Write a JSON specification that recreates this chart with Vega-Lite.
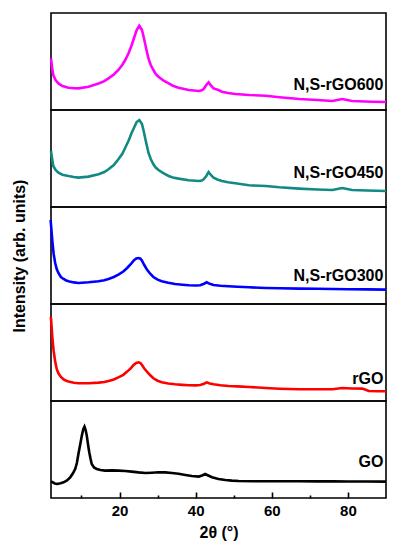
{
  "$schema": "https://vega.github.io/schema/vega-lite/v6.json",
  "padding": {"left": 10, "top": 12, "right": 8, "bottom": 3},
  "spacing": 0,
  "bounds": "flush",
  "config": {
    "view": {"stroke": "#000000", "strokeWidth": 1.6},
    "font": "Liberation Sans",
    "text": {"font": "Liberation Sans"}
  },
  "datasets": {
    "xrd": [
      {"s":"N,S-rGO600","x":2,"y":51.6},{"s":"N,S-rGO600","x":2.3,"y":42},{"s":"N,S-rGO600","x":2.6,"y":35},{"s":"N,S-rGO600","x":3.2,"y":30},{"s":"N,S-rGO600","x":3.95,"y":26.6},{"s":"N,S-rGO600","x":5,"y":24},{"s":"N,S-rGO600","x":6.6,"y":22.3},{"s":"N,S-rGO600","x":8,"y":21.8},{"s":"N,S-rGO600","x":9.2,"y":21.6},{"s":"N,S-rGO600","x":11.85,"y":23.3},{"s":"N,S-rGO600","x":14.5,"y":26.6},{"s":"N,S-rGO600","x":16,"y":28.8},{"s":"N,S-rGO600","x":17.1,"y":31.6},{"s":"N,S-rGO600","x":18.5,"y":35.5},{"s":"N,S-rGO600","x":19.7,"y":40},{"s":"N,S-rGO600","x":20.7,"y":45},{"s":"N,S-rGO600","x":21.5,"y":50},{"s":"N,S-rGO600","x":22.4,"y":57},{"s":"N,S-rGO600","x":23.2,"y":65},{"s":"N,S-rGO600","x":23.9,"y":73},{"s":"N,S-rGO600","x":24.5,"y":80},{"s":"N,S-rGO600","x":25.2,"y":84.3},{"s":"N,S-rGO600","x":25.9,"y":80},{"s":"N,S-rGO600","x":26.4,"y":72},{"s":"N,S-rGO600","x":26.8,"y":65},{"s":"N,S-rGO600","x":27.2,"y":58},{"s":"N,S-rGO600","x":27.6,"y":51.6},{"s":"N,S-rGO600","x":28.2,"y":45},{"s":"N,S-rGO600","x":28.9,"y":40},{"s":"N,S-rGO600","x":29.5,"y":36},{"s":"N,S-rGO600","x":30.25,"y":33.3},{"s":"N,S-rGO600","x":31.5,"y":29.5},{"s":"N,S-rGO600","x":32.9,"y":26.6},{"s":"N,S-rGO600","x":34,"y":24.3},{"s":"N,S-rGO600","x":35.5,"y":22.3},{"s":"N,S-rGO600","x":38.2,"y":20},{"s":"N,S-rGO600","x":40.8,"y":19},{"s":"N,S-rGO600","x":41.6,"y":19.6},{"s":"N,S-rGO600","x":42.1,"y":21},{"s":"N,S-rGO600","x":42.8,"y":25},{"s":"N,S-rGO600","x":43.4,"y":27.6},{"s":"N,S-rGO600","x":44,"y":24.5},{"s":"N,S-rGO600","x":44.7,"y":21.6},{"s":"N,S-rGO600","x":46,"y":20},{"s":"N,S-rGO600","x":46.9,"y":18.3},{"s":"N,S-rGO600","x":48.5,"y":17},{"s":"N,S-rGO600","x":50.4,"y":16},{"s":"N,S-rGO600","x":54,"y":15},{"s":"N,S-rGO600","x":58.4,"y":14.3},{"s":"N,S-rGO600","x":62,"y":12.8},{"s":"N,S-rGO600","x":67.2,"y":11},{"s":"N,S-rGO600","x":72,"y":10},{"s":"N,S-rGO600","x":75.9,"y":9},{"s":"N,S-rGO600","x":78.5,"y":11},{"s":"N,S-rGO600","x":81.1,"y":9},{"s":"N,S-rGO600","x":86.4,"y":8.3},{"s":"N,S-rGO600","x":90,"y":8},

      {"s":"N,S-rGO450","x":2,"y":56},{"s":"N,S-rGO450","x":2.3,"y":48},{"s":"N,S-rGO450","x":2.6,"y":41},{"s":"N,S-rGO450","x":3.2,"y":37},{"s":"N,S-rGO450","x":3.95,"y":34.3},{"s":"N,S-rGO450","x":5,"y":32.3},{"s":"N,S-rGO450","x":6.6,"y":31},{"s":"N,S-rGO450","x":8,"y":30},{"s":"N,S-rGO450","x":9.2,"y":29.4},{"s":"N,S-rGO450","x":11.85,"y":30.4},{"s":"N,S-rGO450","x":14.5,"y":32.7},{"s":"N,S-rGO450","x":16,"y":35},{"s":"N,S-rGO450","x":17.1,"y":37.7},{"s":"N,S-rGO450","x":18.5,"y":42},{"s":"N,S-rGO450","x":19.7,"y":47.7},{"s":"N,S-rGO450","x":20.7,"y":53},{"s":"N,S-rGO450","x":21.5,"y":59.3},{"s":"N,S-rGO450","x":22.4,"y":66.5},{"s":"N,S-rGO450","x":23.2,"y":74.3},{"s":"N,S-rGO450","x":23.9,"y":80},{"s":"N,S-rGO450","x":24.5,"y":85},{"s":"N,S-rGO450","x":25.2,"y":87},{"s":"N,S-rGO450","x":25.9,"y":83},{"s":"N,S-rGO450","x":26.4,"y":75},{"s":"N,S-rGO450","x":26.8,"y":67.7},{"s":"N,S-rGO450","x":27.2,"y":61},{"s":"N,S-rGO450","x":27.6,"y":54.3},{"s":"N,S-rGO450","x":28.2,"y":48},{"s":"N,S-rGO450","x":28.9,"y":42.7},{"s":"N,S-rGO450","x":29.5,"y":39.5},{"s":"N,S-rGO450","x":30.25,"y":37},{"s":"N,S-rGO450","x":31.5,"y":33.8},{"s":"N,S-rGO450","x":32.9,"y":31},{"s":"N,S-rGO450","x":34,"y":29.6},{"s":"N,S-rGO450","x":35.5,"y":28.4},{"s":"N,S-rGO450","x":38.2,"y":26.7},{"s":"N,S-rGO450","x":40.8,"y":26},{"s":"N,S-rGO450","x":41.6,"y":26.5},{"s":"N,S-rGO450","x":42.1,"y":27.7},{"s":"N,S-rGO450","x":42.8,"y":31},{"s":"N,S-rGO450","x":43.4,"y":35},{"s":"N,S-rGO450","x":44,"y":32},{"s":"N,S-rGO450","x":44.7,"y":29.4},{"s":"N,S-rGO450","x":45.7,"y":27.5},{"s":"N,S-rGO450","x":46.9,"y":26},{"s":"N,S-rGO450","x":48.5,"y":24.8},{"s":"N,S-rGO450","x":50.4,"y":23.7},{"s":"N,S-rGO450","x":54,"y":21.7},{"s":"N,S-rGO450","x":58.4,"y":21},{"s":"N,S-rGO450","x":62,"y":19.7},{"s":"N,S-rGO450","x":67.2,"y":18.4},{"s":"N,S-rGO450","x":72,"y":17.5},{"s":"N,S-rGO450","x":75.9,"y":17},{"s":"N,S-rGO450","x":78.5,"y":19},{"s":"N,S-rGO450","x":81.1,"y":17},{"s":"N,S-rGO450","x":85,"y":16.5},{"s":"N,S-rGO450","x":90,"y":16},

      {"s":"N,S-rGO300","x":1.9,"y":84},{"s":"N,S-rGO300","x":2,"y":79.4},{"s":"N,S-rGO300","x":2.2,"y":70},{"s":"N,S-rGO300","x":2.4,"y":61},{"s":"N,S-rGO300","x":2.7,"y":50},{"s":"N,S-rGO300","x":3.1,"y":41},{"s":"N,S-rGO300","x":3.5,"y":35},{"s":"N,S-rGO300","x":3.95,"y":31},{"s":"N,S-rGO300","x":4.6,"y":27},{"s":"N,S-rGO300","x":5.3,"y":25},{"s":"N,S-rGO300","x":6,"y":23.5},{"s":"N,S-rGO300","x":6.6,"y":22.7},{"s":"N,S-rGO300","x":8,"y":21.6},{"s":"N,S-rGO300","x":9.2,"y":21},{"s":"N,S-rGO300","x":11.85,"y":21.7},{"s":"N,S-rGO300","x":14.5,"y":22.7},{"s":"N,S-rGO300","x":16,"y":23.8},{"s":"N,S-rGO300","x":17.1,"y":25},{"s":"N,S-rGO300","x":18.5,"y":27},{"s":"N,S-rGO300","x":19.7,"y":29.4},{"s":"N,S-rGO300","x":21,"y":32.5},{"s":"N,S-rGO300","x":22,"y":36},{"s":"N,S-rGO300","x":23,"y":40},{"s":"N,S-rGO300","x":23.7,"y":43.4},{"s":"N,S-rGO300","x":24.4,"y":45.5},{"s":"N,S-rGO300","x":25,"y":46},{"s":"N,S-rGO300","x":25.5,"y":45.3},{"s":"N,S-rGO300","x":25.9,"y":43.4},{"s":"N,S-rGO300","x":26.5,"y":39},{"s":"N,S-rGO300","x":27.2,"y":34.4},{"s":"N,S-rGO300","x":28,"y":30.5},{"s":"N,S-rGO300","x":28.9,"y":27},{"s":"N,S-rGO300","x":30,"y":24.3},{"s":"N,S-rGO300","x":31.1,"y":22.7},{"s":"N,S-rGO300","x":32.8,"y":21.2},{"s":"N,S-rGO300","x":34.6,"y":20},{"s":"N,S-rGO300","x":36.5,"y":19.3},{"s":"N,S-rGO300","x":38.2,"y":18.7},{"s":"N,S-rGO300","x":40,"y":18.5},{"s":"N,S-rGO300","x":41.2,"y":18.7},{"s":"N,S-rGO300","x":42.2,"y":20.3},{"s":"N,S-rGO300","x":42.9,"y":21.7},{"s":"N,S-rGO300","x":43.7,"y":20.2},{"s":"N,S-rGO300","x":44.7,"y":19},{"s":"N,S-rGO300","x":46.5,"y":18.2},{"s":"N,S-rGO300","x":48.6,"y":17.7},{"s":"N,S-rGO300","x":51,"y":17.2},{"s":"N,S-rGO300","x":54,"y":16.7},{"s":"N,S-rGO300","x":58.4,"y":16},{"s":"N,S-rGO300","x":62,"y":15.7},{"s":"N,S-rGO300","x":67.2,"y":15.4},{"s":"N,S-rGO300","x":72,"y":15.2},{"s":"N,S-rGO300","x":75.9,"y":15},{"s":"N,S-rGO300","x":80,"y":14.8},{"s":"N,S-rGO300","x":85,"y":14.6},{"s":"N,S-rGO300","x":90,"y":14.4},

      {"s":"rGO","x":1.9,"y":84},{"s":"rGO","x":2,"y":82.7},{"s":"rGO","x":2.2,"y":72},{"s":"rGO","x":2.4,"y":61},{"s":"rGO","x":2.7,"y":50},{"s":"rGO","x":3.1,"y":39.4},{"s":"rGO","x":3.5,"y":32},{"s":"rGO","x":3.95,"y":27.7},{"s":"rGO","x":4.6,"y":24},{"s":"rGO","x":5.3,"y":21.7},{"s":"rGO","x":6,"y":20.3},{"s":"rGO","x":6.6,"y":19.4},{"s":"rGO","x":8,"y":18.3},{"s":"rGO","x":9.2,"y":17.7},{"s":"rGO","x":11.85,"y":17.7},{"s":"rGO","x":14.5,"y":18.4},{"s":"rGO","x":16,"y":19},{"s":"rGO","x":17.1,"y":20},{"s":"rGO","x":18.5,"y":21.5},{"s":"rGO","x":19.7,"y":23.7},{"s":"rGO","x":21,"y":26.2},{"s":"rGO","x":22,"y":29.4},{"s":"rGO","x":23,"y":32.8},{"s":"rGO","x":23.7,"y":36},{"s":"rGO","x":24.4,"y":38},{"s":"rGO","x":25,"y":38.7},{"s":"rGO","x":25.5,"y":38},{"s":"rGO","x":25.9,"y":36},{"s":"rGO","x":26.5,"y":32.5},{"s":"rGO","x":27.2,"y":29.4},{"s":"rGO","x":28,"y":26},{"s":"rGO","x":28.9,"y":22.7},{"s":"rGO","x":30,"y":20.3},{"s":"rGO","x":31.1,"y":18.7},{"s":"rGO","x":32.8,"y":17.5},{"s":"rGO","x":34.6,"y":16.7},{"s":"rGO","x":36.5,"y":16.1},{"s":"rGO","x":38.2,"y":15.7},{"s":"rGO","x":40,"y":15.6},{"s":"rGO","x":41.2,"y":16},{"s":"rGO","x":42.2,"y":17.3},{"s":"rGO","x":42.9,"y":18.7},{"s":"rGO","x":43.7,"y":17.6},{"s":"rGO","x":44.7,"y":16.7},{"s":"rGO","x":46.5,"y":15.7},{"s":"rGO","x":48.6,"y":15},{"s":"rGO","x":51,"y":14.6},{"s":"rGO","x":54,"y":14},{"s":"rGO","x":58.4,"y":13},{"s":"rGO","x":62,"y":12.3},{"s":"rGO","x":67.2,"y":11.7},{"s":"rGO","x":72,"y":11.7},{"s":"rGO","x":75.9,"y":11.7},{"s":"rGO","x":78.5,"y":13},{"s":"rGO","x":81,"y":12.5},{"s":"rGO","x":83.8,"y":12.4},{"s":"rGO","x":84.8,"y":11},{"s":"rGO","x":85.5,"y":10},{"s":"rGO","x":88,"y":9.8},{"s":"rGO","x":90,"y":9.7},

      {"s":"GO","x":2,"y":16.7},{"s":"GO","x":3,"y":14.5},{"s":"GO","x":3.6,"y":14},{"s":"GO","x":4.5,"y":14.8},{"s":"GO","x":5.3,"y":15.7},{"s":"GO","x":6.2,"y":17.5},{"s":"GO","x":7.05,"y":20.7},{"s":"GO","x":7.8,"y":25},{"s":"GO","x":8.35,"y":29},{"s":"GO","x":8.8,"y":35},{"s":"GO","x":9.2,"y":44},{"s":"GO","x":9.7,"y":54},{"s":"GO","x":10.1,"y":62.4},{"s":"GO","x":10.5,"y":69},{"s":"GO","x":10.8,"y":71.4},{"s":"GO","x":11.1,"y":68},{"s":"GO","x":11.4,"y":62.4},{"s":"GO","x":11.75,"y":53},{"s":"GO","x":12.05,"y":45.7},{"s":"GO","x":12.4,"y":39},{"s":"GO","x":12.7,"y":34},{"s":"GO","x":13.3,"y":30.5},{"s":"GO","x":14,"y":29},{"s":"GO","x":15,"y":28},{"s":"GO","x":16.2,"y":27.4},{"s":"GO","x":18,"y":27.6},{"s":"GO","x":19.7,"y":27.4},{"s":"GO","x":21.5,"y":27},{"s":"GO","x":23.2,"y":26.4},{"s":"GO","x":25,"y":25.6},{"s":"GO","x":26.8,"y":25},{"s":"GO","x":28.5,"y":25.3},{"s":"GO","x":30.25,"y":25.7},{"s":"GO","x":32,"y":25.6},{"s":"GO","x":33.75,"y":25},{"s":"GO","x":35.5,"y":24.2},{"s":"GO","x":37.3,"y":23},{"s":"GO","x":39,"y":22},{"s":"GO","x":40.8,"y":21.4},{"s":"GO","x":41.7,"y":22.5},{"s":"GO","x":42.5,"y":24},{"s":"GO","x":43.3,"y":22.5},{"s":"GO","x":44.3,"y":20.7},{"s":"GO","x":46,"y":19},{"s":"GO","x":47.8,"y":18},{"s":"GO","x":49.5,"y":17.4},{"s":"GO","x":51.3,"y":17},{"s":"GO","x":55,"y":16.8},{"s":"GO","x":58.3,"y":16.8},{"s":"GO","x":62,"y":16.7},{"s":"GO","x":67.1,"y":16.7},{"s":"GO","x":72,"y":16.6},{"s":"GO","x":75.9,"y":16.6},{"s":"GO","x":80,"y":16.5},{"s":"GO","x":85,"y":16.5},{"s":"GO","x":90,"y":16.4}
    ]
  },
  "vconcat": [
    {
      "width": 335, "height": 97,
      "layer": [
        {
          "data": {"name": "xrd"},
          "transform": [{"filter": "datum.s == 'N,S-rGO600'"}],
          "mark": {"type": "line", "color": "#FF00FF", "strokeWidth": 2.6},
          "encoding": {
            "x": {"field": "x", "type": "quantitative", "scale": {"domain": [2, 90], "nice": false, "zero": false}, "axis": null},
            "y": {"field": "y", "type": "quantitative", "scale": {"domain": [0, 97], "nice": false}, "axis": null}
          }
        },
        {
          "data": {"values": [{"label": "N,S-rGO600"}]},
          "mark": {"type": "text", "align": "right", "baseline": "middle", "fontSize": 16, "fontWeight": "bold", "color": "#000000"},
          "encoding": {"x": {"datum": 89.3, "type": "quantitative"}, "y": {"datum": 25, "type": "quantitative"}, "text": {"field": "label"}}
        }
      ]
    },
    {
      "width": 335, "height": 97,
      "layer": [
        {
          "data": {"name": "xrd"},
          "transform": [{"filter": "datum.s == 'N,S-rGO450'"}],
          "mark": {"type": "line", "color": "#128A84", "strokeWidth": 2.6},
          "encoding": {
            "x": {"field": "x", "type": "quantitative", "scale": {"domain": [2, 90], "nice": false, "zero": false}, "axis": null},
            "y": {"field": "y", "type": "quantitative", "scale": {"domain": [0, 97], "nice": false}, "axis": null}
          }
        },
        {
          "data": {"values": [{"label": "N,S-rGO450"}]},
          "mark": {"type": "text", "align": "right", "baseline": "middle", "fontSize": 16, "fontWeight": "bold", "color": "#000000"},
          "encoding": {"x": {"datum": 89.3, "type": "quantitative"}, "y": {"datum": 33.7, "type": "quantitative"}, "text": {"field": "label"}}
        }
      ]
    },
    {
      "width": 335, "height": 97,
      "layer": [
        {
          "data": {"name": "xrd"},
          "transform": [{"filter": "datum.s == 'N,S-rGO300'"}],
          "mark": {"type": "line", "color": "#0000FF", "strokeWidth": 2.6},
          "encoding": {
            "x": {"field": "x", "type": "quantitative", "scale": {"domain": [2, 90], "nice": false, "zero": false}, "axis": null},
            "y": {"field": "y", "type": "quantitative", "scale": {"domain": [0, 97], "nice": false},
                  "axis": {"title": "Intensity (arb. units)", "labels": false, "ticks": false, "domain": false, "grid": false, "titleFontSize": 16, "titleFontWeight": "bold", "titleColor": "#000000", "titlePadding": 24, "titleFont": "Liberation Sans"}}
          }
        },
        {
          "data": {"values": [{"label": "N,S-rGO300"}]},
          "mark": {"type": "text", "align": "right", "baseline": "middle", "fontSize": 16, "fontWeight": "bold", "color": "#000000"},
          "encoding": {"x": {"datum": 89.3, "type": "quantitative"}, "y": {"datum": 28.4, "type": "quantitative"}, "text": {"field": "label"}}
        }
      ]
    },
    {
      "width": 335, "height": 97,
      "layer": [
        {
          "data": {"name": "xrd"},
          "transform": [{"filter": "datum.s == 'rGO'"}],
          "mark": {"type": "line", "color": "#FF0000", "strokeWidth": 2.6},
          "encoding": {
            "x": {"field": "x", "type": "quantitative", "scale": {"domain": [2, 90], "nice": false, "zero": false}, "axis": null},
            "y": {"field": "y", "type": "quantitative", "scale": {"domain": [0, 97], "nice": false}, "axis": null}
          }
        },
        {
          "data": {"values": [{"label": "rGO"}]},
          "mark": {"type": "text", "align": "right", "baseline": "middle", "fontSize": 16, "fontWeight": "bold", "color": "#000000"},
          "encoding": {"x": {"datum": 89.3, "type": "quantitative"}, "y": {"datum": 21.7, "type": "quantitative"}, "text": {"field": "label"}}
        }
      ]
    },
    {
      "width": 335, "height": 97,
      "layer": [
        {
          "data": {"name": "xrd"},
          "transform": [{"filter": "datum.s == 'GO'"}],
          "mark": {"type": "line", "color": "#000000", "strokeWidth": 2.6},
          "encoding": {
            "x": {"field": "x", "type": "quantitative", "scale": {"domain": [2, 90], "nice": false, "zero": false},
                  "axis": {"values": [10, 20, 30, 40, 50, 60, 70, 80], "labelExpr": "datum.value % 20 == 0 ? datum.label : ''",
                           "tickSize": {"condition": {"test": "datum.value % 20 == 0", "value": -6}, "value": -3},
                           "tickColor": "#000000", "tickWidth": 1.6, "domain": false, "grid": false,
                           "labelFontSize": 15, "labelFontWeight": "bold", "labelColor": "#000000", "labelFont": "Liberation Sans", "labelPadding": 11,
                           "title": "2θ (°)", "titleFontSize": 16, "titleFontWeight": "bold", "titleColor": "#000000", "titleFont": "Liberation Sans", "titlePadding": 6}},
            "y": {"field": "y", "type": "quantitative", "scale": {"domain": [0, 97], "nice": false}, "axis": null}
          }
        },
        {
          "data": {"values": [{"label": "GO"}]},
          "mark": {"type": "text", "align": "right", "baseline": "middle", "fontSize": 16, "fontWeight": "bold", "color": "#000000"},
          "encoding": {"x": {"datum": 89.3, "type": "quantitative"}, "y": {"datum": 35.7, "type": "quantitative"}, "text": {"field": "label"}}
        }
      ]
    }
  ]
}
